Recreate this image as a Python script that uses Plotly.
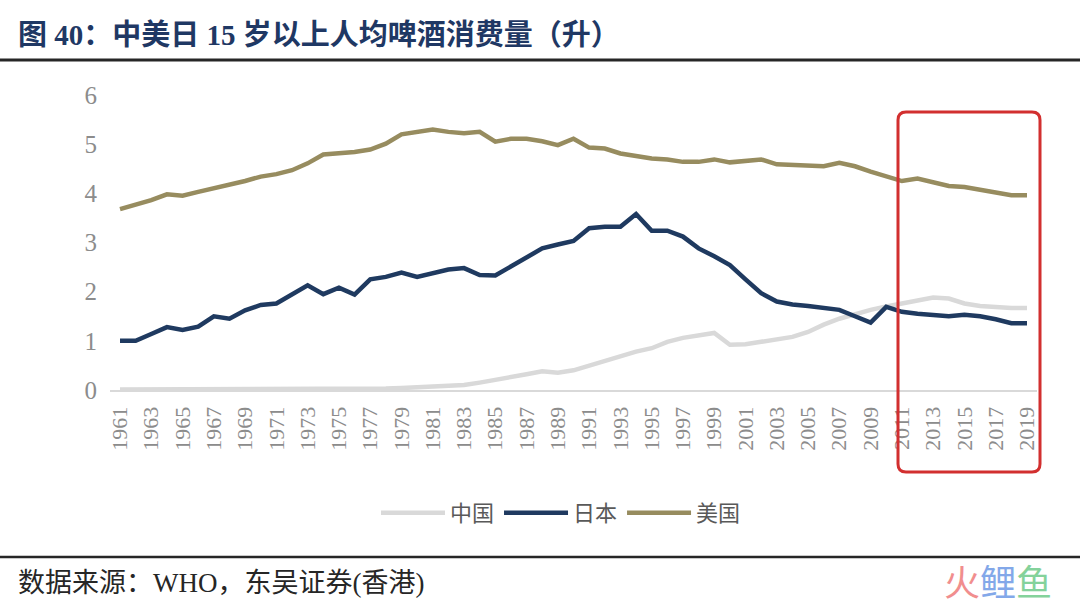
import plotly.graph_objects as go

years = list(range(1961, 2020))

china = [0.01, 0.01, 0.01, 0.01, 0.01, 0.01, 0.01, 0.01, 0.01, 0.01,
         0.01, 0.01, 0.01, 0.01, 0.02, 0.02, 0.03, 0.03, 0.04, 0.05,
         0.07, 0.08, 0.10, 0.15, 0.20, 0.26, 0.32, 0.38, 0.35, 0.40,
         0.50, 0.60, 0.70, 0.78, 0.85, 0.98, 1.06, 1.10, 1.16, 0.92,
         0.93, 0.98, 1.02, 1.08, 1.18, 1.33, 1.45, 1.55, 1.63, 1.70,
         1.76, 1.83, 1.88, 1.86, 1.76, 1.71, 1.68, 1.67, 1.67]

japan = [1.00, 1.00, 1.14, 1.28, 1.22, 1.29, 1.50, 1.45, 1.62, 1.73,
         1.76, 1.95, 2.13, 1.95, 2.08, 1.94, 2.25, 2.30, 2.39, 2.30,
         2.38, 2.45, 2.48, 2.34, 2.33, 2.52, 2.70, 2.88, 2.96, 3.03,
         3.29, 3.32, 3.32, 3.58, 3.24, 3.24, 3.12, 2.88, 2.72, 2.54,
         2.25, 1.97, 1.80, 1.74, 1.71, 1.67, 1.63, 1.50, 1.37, 1.69,
         1.59, 1.55, 1.52, 1.50, 1.53, 1.50, 1.44, 1.36, 1.36]

usa = [3.68, 3.77, 3.86, 3.98, 3.95, 4.03, 4.10, 4.17, 4.25, 4.34,
       4.39, 4.47, 4.61, 4.79, 4.81, 4.84, 4.89, 5.01, 5.20, 5.25,
       5.30, 5.25, 5.22, 5.25, 5.05, 5.11, 5.11, 5.06, 4.98, 5.11,
       4.93, 4.91, 4.81, 4.76, 4.71, 4.69, 4.64, 4.64, 4.69, 4.63,
       4.67, 4.69, 4.59, 4.57, 4.55, 4.55, 4.62, 4.55, 4.44, 4.34,
       4.25, 4.30, 4.23, 4.15, 4.13, 4.07, 4.00, 3.96, 3.96]

x_ticks = list(range(1961, 2020, 2))
y_ticks = [0, 1, 2, 3, 4, 5, 6]

series_names = ["中国", "日本", "美国"]
series_colors = ["#d9d9d9", "#1f3a60", "#978c5f"]

W, H = 1080, 606
L, R, T, B = 110, 43, 95, 216
PW = W - L - R
PH = H - T - B


def px_x(px):
    return (px - L) / PW


def px_y(py):
    return (H - B - py) / PH


SERIF = "Liberation Serif, Noto Sans CJK SC, serif"

fig = go.Figure()
for name, vals, col in zip(series_names, [china, japan, usa], series_colors):
    fig.add_trace(go.Scatter(x=years, y=vals, mode="lines", name=name,
                             line=dict(color=col, width=4.5)))

fig.update_layout(
    width=W, height=H,
    margin=dict(l=L, r=R, t=T, b=B, pad=0),
    paper_bgcolor="white", plot_bgcolor="white",
    showlegend=True,
    legend=dict(orientation="h", x=px_x(561), xanchor="center",
                y=px_y(513), yanchor="middle",
                font=dict(family=SERIF, size=22, color="#595959"),
                itemwidth=64, tracegroupgap=0),
    xaxis=dict(range=[1960.36, 2019.64], tickmode="array", tickvals=x_ticks,
               ticktext=[str(v) for v in x_ticks], tickangle=-90,
               tickfont=dict(family=SERIF, size=22, color="#8c8c8c"),
               showgrid=False, zeroline=False, showline=True,
               linecolor="#d9d9d9", linewidth=2, ticks="",
               ticklabelstandoff=6),
    yaxis=dict(range=[0, 6], tickmode="array", tickvals=y_ticks,
               tickfont=dict(family=SERIF, size=25, color="#8c8c8c"),
               showgrid=False, zeroline=False, showline=False, ticks="",
               ticklabelstandoff=12),
)

# title
fig.add_annotation(xref="paper", yref="paper", x=px_x(16), y=px_y(35),
                   xanchor="left", yanchor="middle", showarrow=False,
                   text="<b>图 40：中美日 15 岁以上人均啤酒消费量（升）</b>",
                   font=dict(family=SERIF, size=29, color="#1f3864"))
# footer
fig.add_annotation(xref="paper", yref="paper", x=px_x(16), y=px_y(583),
                   xanchor="left", yanchor="middle", showarrow=False,
                   text="数据来源：WHO，东吴证券(香港)",
                   font=dict(family=SERIF, size=27, color="#262626"))
# watermark
fig.add_annotation(xref="paper", yref="paper", x=px_x(1054), y=px_y(580),
                   xanchor="right", yanchor="middle", showarrow=False,
                   text=('<span style="color:#ef7b7b">火</span>'
                         '<span style="color:#6e9ae6">鲤</span>'
                         '<span style="color:#6fcb8a">鱼</span>'),
                   font=dict(family="Noto Sans CJK SC", size=36),
                   opacity=0.85)

# separator lines
fig.add_shape(type="line", xref="paper", yref="paper",
              x0=px_x(0), x1=px_x(W), y0=px_y(60), y1=px_y(60),
              line=dict(color="#262626", width=3))
fig.add_shape(type="line", xref="paper", yref="paper",
              x0=px_x(0), x1=px_x(W), y0=px_y(557), y1=px_y(557),
              line=dict(color="#262626", width=2.5))

# red rounded highlight box
bx0, bx1, by0, by1, rr = 898, 1040, 112, 472, 8
path = (f"M {px_x(bx0 + rr)},{px_y(by0)} L {px_x(bx1 - rr)},{px_y(by0)} "
        f"Q {px_x(bx1)},{px_y(by0)} {px_x(bx1)},{px_y(by0 + rr)} "
        f"L {px_x(bx1)},{px_y(by1 - rr)} "
        f"Q {px_x(bx1)},{px_y(by1)} {px_x(bx1 - rr)},{px_y(by1)} "
        f"L {px_x(bx0 + rr)},{px_y(by1)} "
        f"Q {px_x(bx0)},{px_y(by1)} {px_x(bx0)},{px_y(by1 - rr)} "
        f"L {px_x(bx0)},{px_y(by0 + rr)} "
        f"Q {px_x(bx0)},{px_y(by0)} {px_x(bx0 + rr)},{px_y(by0)} Z")
fig.add_shape(type="path", xref="paper", yref="paper", path=path,
              line=dict(color="#d22f2f", width=3))

fig.write_html("out.html",
               config={"displayModeBar": False},
               post_script="document.body.style.margin='0';"
                           "document.body.style.overflow='hidden';")
